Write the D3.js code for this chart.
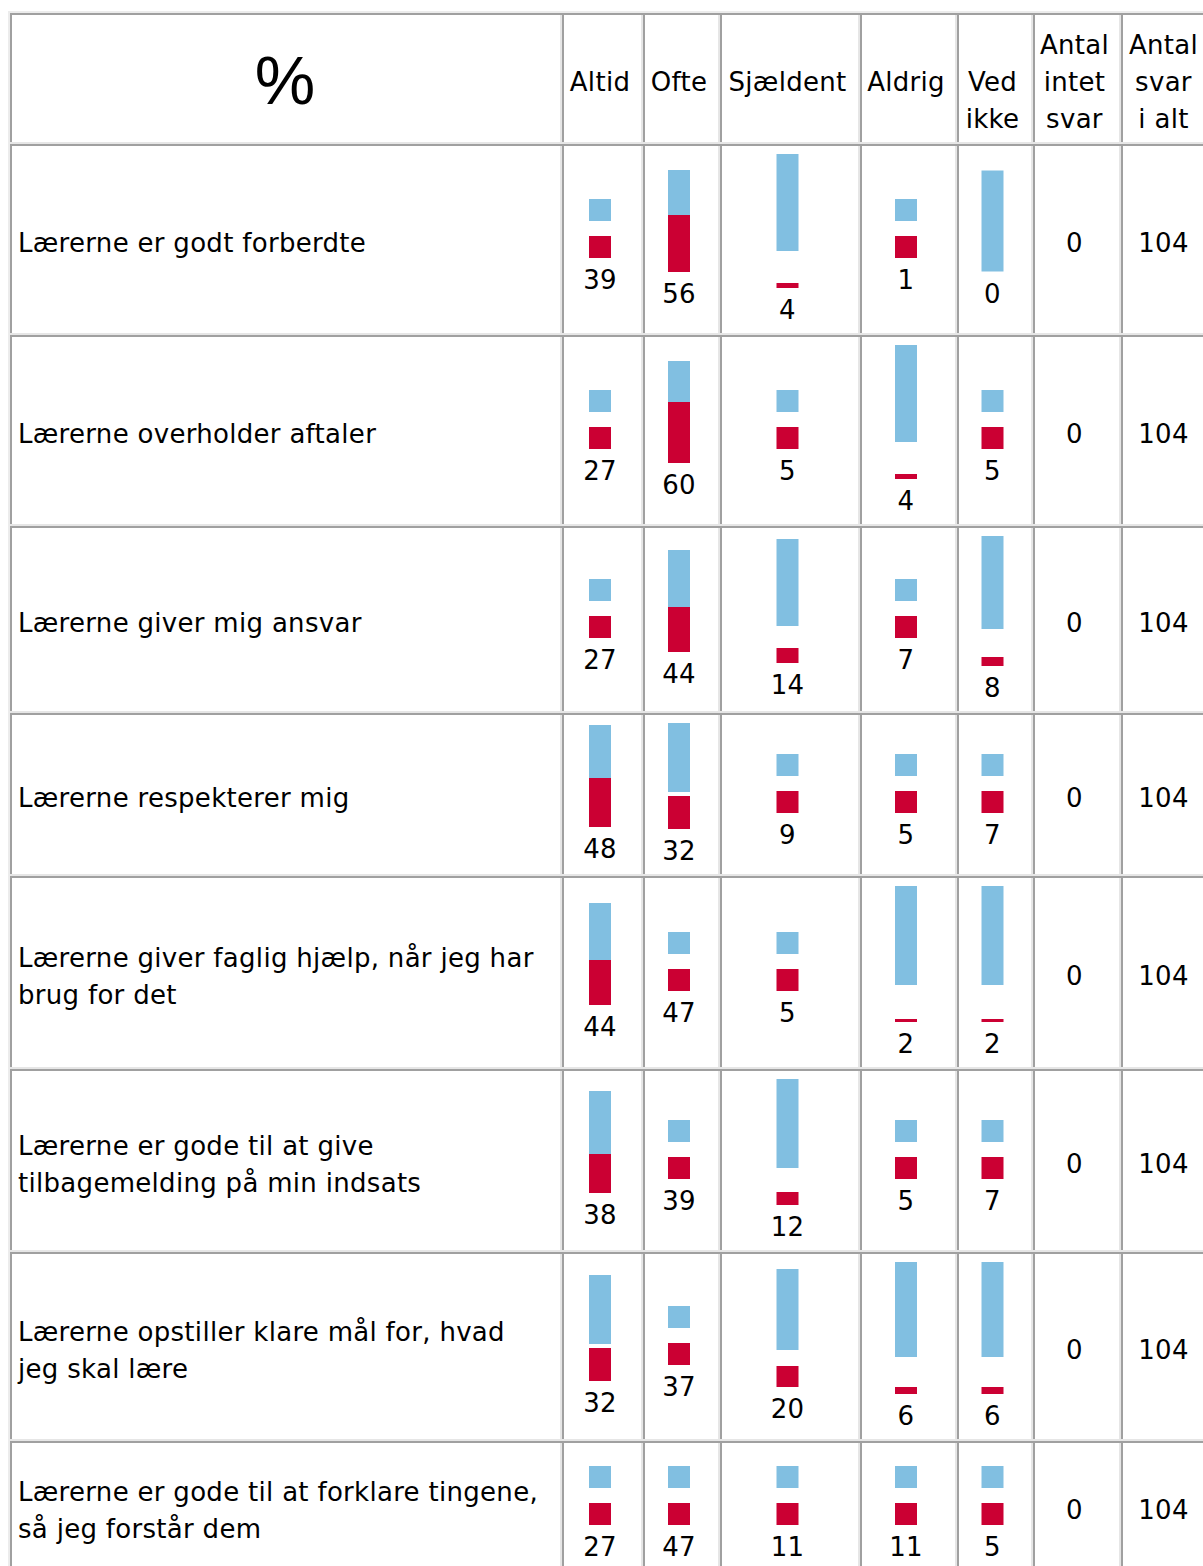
<!DOCTYPE html>
<meta charset="utf-8">
<style>
body { margin: 0; background: #fff; overflow: hidden; }
svg { display: block; font-family: "DejaVu Sans", Verdana, sans-serif; font-size: 26px; letter-spacing: 0.3px; }
</style>
<svg width="1203" height="1566"></svg>
<script src="https://d3js.org/d3.v7.min.js"></script>
<script>

// svar-kategorier (kolonner med søjler)
var categories = ["Altid", "Ofte", "Sjældent", "Aldrig", "Ved ikke"];

// kolonneoverskrifter, en linje pr. element
var headers = [["Altid"], ["Ofte"], ["Sjældent"], ["Aldrig"], ["Ved", "ikke"],
               ["Antal", "intet", "svar"], ["Antal", "svar", "i alt"]];

// spørgsmål (rækker), ombrudt som i originalen
var questions = [
  ["Lærerne er godt forberdte"],
  ["Lærerne overholder aftaler"],
  ["Lærerne giver mig ansvar"],
  ["Lærerne respekterer mig"],
  ["Lærerne giver faglig hjælp, når jeg har", "brug for det"],
  ["Lærerne er gode til at give", "tilbagemelding på min indsats"],
  ["Lærerne opstiller klare mål for, hvad", "jeg skal lære"],
  ["Lærerne er gode til at forklare tingene,", "så jeg forstår dem"]
];

// procenter pr. kategori
var altid     = [39, 27, 27, 48, 44, 38, 32, 27];
var ofte      = [56, 60, 44, 32, 47, 39, 37, 47];
var sjaeldent = [4, 5, 14, 9, 5, 12, 20, 11];
var aldrig    = [1, 4, 7, 5, 2, 5, 6, 11];
var vedIkke   = [0, 5, 8, 7, 2, 7, 6, 5];

var intetSvar = [0, 0, 0, 0, 0, 0, 0, 0];
var iAlt      = [104, 104, 104, 104, 104, 104, 104, 104];

// celler hvor kilden kun viser to små firkanter i stedet for søjlen
var squareCells = [
  [1, 0, 0, 1, 0],
  [1, 0, 1, 0, 1],
  [1, 0, 0, 1, 0],
  [0, 0, 1, 1, 1],
  [0, 1, 1, 0, 0],
  [0, 1, 0, 1, 1],
  [0, 1, 0, 0, 0],
  [1, 1, 1, 1, 1]
];

var BLUE = "#81bfe1", RED = "#cb0033",
    DARK = "#a0a0a0", LIGHT = "#e6e6e6";

var LINE = 37, BASE = 31, PAD = 8, BORDER = 2, BAR_W = 22, SQ = 22;

var svg = d3.select("svg");

// søjlehøjde i px
var h = d3.scaleLinear().domain([0, 100]).range([1, 101]);

// kolonnekanter
var colW = [552, 81, 77, 140, 97, 76, 88, 90];
var x0 = 10, y0 = 13;
var colX = [x0];
colW.forEach(function(w, i) { colX.push(colX[i] + w); });

var rows = questions.map(function(q, i) {
  return {
    label: q,
    values: [altid[i], ofte[i], sjaeldent[i], aldrig[i], vedIkke[i]],
    square: squareCells[i],
    intet: intetSvar[i],
    total: iAlt[i]
  };
});

// en celles stak: blå, rød, tal
function stack(v, sq) {
  var items = [];
  if (sq) {
    items.push({c: BLUE, h: SQ});
    items.push({c: RED, h: SQ});
  } else {
    items.push({c: BLUE, h: h(100 - v)});
    if (v > 0) items.push({c: RED, h: h(v)});
  }
  var y = 0;
  items.forEach(function(d) {
    d.box = Math.max(d.h, LINE);
    d.y = y + d.box - d.h;
    y += d.box;
  });
  return {items: items, textY: y + BASE, height: y + LINE, value: v};
}

rows.forEach(function(r) {
  r.stacks = r.values.map(function(v, j) { return stack(v, r.square[j]); });
  r.content = Math.max(LINE * r.label.length, d3.max(r.stacks, function(s) { return s.height; }));
  r.h = r.content + 2 * PAD + 2 * BORDER;
});

var headerLines = d3.max(headers, function(d) { return d.length; });
var headerH = headerLines * LINE + 2 * PAD + 2 * BORDER;
var rowY = [y0 + headerH];
rows.forEach(function(r, i) { rowY.push(rowY[i] + r.h); });

// ydre tabelkant
svg.append("rect").attr("x", x0 - 2).attr("y", y0 - 2)
    .attr("width", colX[colX.length - 1] - x0 + 4).attr("height", 2).attr("fill", "#ececec");
svg.append("rect").attr("x", x0 - 2).attr("y", y0 - 2)
    .attr("width", 2).attr("height", rowY[rowY.length - 1] - y0 + 4).attr("fill", "#ececec");

function cell(x, y, w, hh) {
  var g = svg.append("g").attr("transform", "translate(" + x + "," + y + ")");
  g.append("rect").attr("width", w).attr("height", hh).attr("fill", "#fff");
  g.append("rect").attr("width", w).attr("height", BORDER).attr("fill", DARK);
  g.append("rect").attr("width", BORDER).attr("height", hh).attr("fill", DARK);
  g.append("rect").attr("y", hh - BORDER).attr("width", w).attr("height", BORDER).attr("fill", LIGHT);
  g.append("rect").attr("x", w - BORDER).attr("y", BORDER).attr("width", BORDER).attr("height", hh - BORDER).attr("fill", LIGHT);
  return g;
}

function centerX(j) { return (colX[j + 1] - colX[j]) / 2 - 2.5; }

// overskriftsrække
var hc = cell(colX[0], y0, colW[0], headerH);
hc.append("text")
    .attr("x", colW[0] / 2 - 1).attr("y", headerH / 2 + 25)
    .attr("text-anchor", "middle")
    .style("font-family", "'Liberation Sans', Arial, sans-serif")
    .style("font-size", "68px").style("letter-spacing", "0")
    .text("%");

headers.forEach(function(lines, k) {
  var j = k + 1;
  var g = cell(colX[j], y0, colW[j], headerH);
  // første linje på midterlinjen, undtagen de tre-linjede
  var slot = Math.ceil((headerLines - lines.length) / 2);
  var top = BORDER + PAD + slot * LINE;
  g.append("text").attr("text-anchor", "middle")
    .selectAll("tspan").data(lines).enter().append("tspan")
      .attr("x", centerX(j))
      .attr("y", function(d, i) { return top + i * LINE + BASE; })
      .text(function(d) { return d; });
});

// datarækker
rows.forEach(function(r, i) {
  var y = rowY[i];
  var lc = cell(colX[0], y, colW[0], r.h);
  var ltop = r.h / 2 - r.label.length * LINE / 2;
  lc.append("text")
    .selectAll("tspan").data(r.label).enter().append("tspan")
      .attr("x", 8)
      .attr("y", function(d, k) { return ltop + k * LINE + BASE; })
      .text(function(d) { return d; });

  r.stacks.forEach(function(s, k) {
    var j = k + 1;
    var g = cell(colX[j], y, colW[j], r.h);
    var top = r.h / 2 - s.height / 2;
    var cx = centerX(j);
    g.selectAll("rect.bar").data(s.items).enter().append("rect")
        .attr("class", "bar")
        .attr("x", cx - BAR_W / 2)
        .attr("y", function(d) { return top + d.y; })
        .attr("width", BAR_W)
        .attr("height", function(d) { return d.h; })
        .attr("fill", function(d) { return d.c; });
    g.append("text").attr("text-anchor", "middle")
        .attr("x", cx).attr("y", top + s.textY)
        .text(s.value);
  });

  [r.intet, r.total].forEach(function(v, k) {
    var j = k + 6;
    var g = cell(colX[j], y, colW[j], r.h);
    g.append("text").attr("text-anchor", "middle")
        .attr("x", centerX(j)).attr("y", r.h / 2 - LINE / 2 + BASE)
        .text(v);
  });
});

</script>
